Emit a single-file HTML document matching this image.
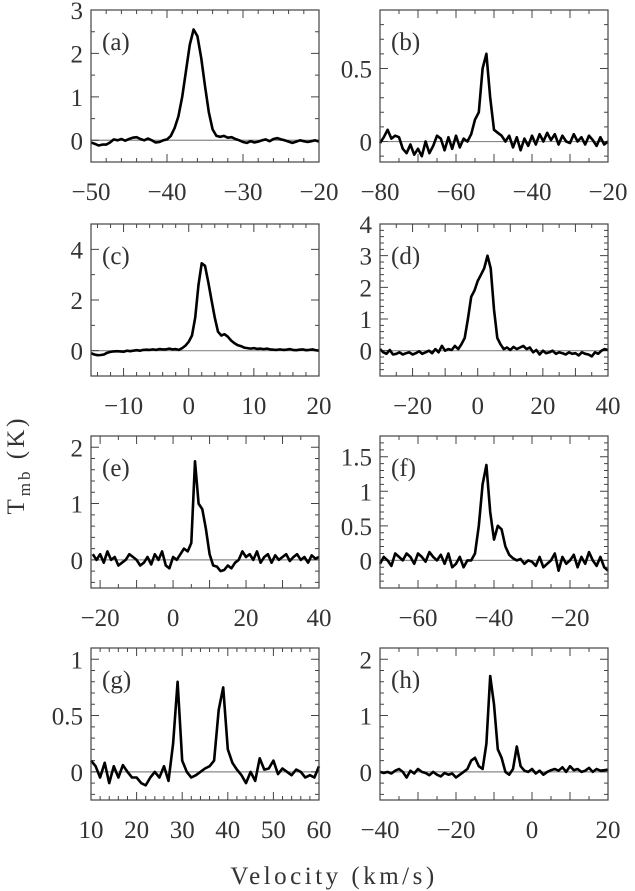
<!DOCTYPE html>
<html><head><meta charset="utf-8"><style>
html,body{margin:0;padding:0;background:#fff;}
svg{display:block;}
text{font-family:"Liberation Serif",serif;fill:#333;}
</style></head><body>
<svg id="chart" width="635" height="891" viewBox="0 0 635 891">
<text x="334" y="884" font-size="25" letter-spacing="3.5" text-anchor="middle">Velocity (km/s)</text>
<text transform="translate(24,465) rotate(-90)" font-size="25" letter-spacing="3" text-anchor="middle">T<tspan font-size="17" dy="6">mb</tspan><tspan dy="-6"> (K)</tspan></text>
</svg>
<script>
// ---- data ----
const panelNames = ["a","b","c","d","e","f","g","h"];
const vStarts = [-50,-80,-15,-30,-22,-70,10,-40];
const vSteps = [0.5,1,0.5,1,1,1,1,1];
const xRanges = [[-50,-20],[-80,-20],[-15,20],[-30,40],[-22.5,40],[-70,-10],[10,60],[-40,20]];
const yRanges = [[-0.5,3],[-0.14,0.9],[-1,5],[-0.8,4],[-0.5,2.2],[-0.4,1.8],[-0.25,1.1],[-0.5,2.2]];
const xTickLabels = [[-50,-40,-30,-20],[-80,-60,-40,-20],[-10,0,10,20],[-20,0,20,40],[-20,0,20,40],[-60,-40,-20],[10,20,30,40,50,60],[-40,-20,0,20]];
const xMinor = [2,5,2,5,5,5,2,5];
const yTickLabels = [[0,1,2,3],[0,0.5],[0,2,4],[0,1,2,3,4],[0,1,2],[0,0.5,1,1.5],[0,0.5,1],[0,1,2]];
const yMinor = [0.5,0.1,1,0.2,0.2,0.1,0.1,0.2];
const specA = [-0.05,-0.08,-0.12,-0.1,-0.1,-0.05,0.02,0.0,0.03,-0.01,0.03,0.06,0.07,0.03,0.0,0.04,0.0,-0.05,-0.04,0.0,0.02,0.1,0.28,0.55,1.0,1.6,2.2,2.55,2.4,1.9,1.25,0.65,0.25,0.1,0.08,0.1,0.06,0.07,0.03,0.0,-0.04,-0.06,-0.02,-0.05,-0.03,0.0,0.02,-0.02,0.03,0.05,0.02,0.0,-0.03,-0.06,-0.03,0.0,-0.02,-0.04,-0.02,0.0,-0.03];
const specB = [-0.01,0.03,0.08,0.02,0.04,0.03,-0.05,-0.08,-0.02,-0.09,-0.05,-0.1,0.0,-0.08,-0.03,0.04,0.02,-0.06,0.03,-0.05,0.04,-0.04,0.02,0.0,0.05,0.15,0.2,0.5,0.6,0.3,0.08,0.06,0.04,0.0,0.04,-0.04,0.03,-0.06,0.02,-0.03,0.04,-0.02,0.05,0.0,0.06,0.01,0.05,-0.02,0.04,0.0,-0.01,0.05,0.0,0.03,-0.02,0.04,0.01,-0.03,0.03,-0.02,0.0];
const specC = [-0.1,-0.15,-0.18,-0.17,-0.15,-0.08,-0.05,-0.03,-0.02,-0.03,-0.04,0.0,-0.02,0.0,0.02,0.0,0.03,0.04,0.03,0.05,0.03,0.06,0.05,0.05,0.08,0.05,0.06,0.03,0.1,0.2,0.35,0.6,1.3,2.6,3.45,3.35,2.7,2.0,1.3,0.75,0.6,0.65,0.55,0.4,0.3,0.22,0.18,0.12,0.1,0.08,0.1,0.07,0.08,0.06,0.08,0.05,0.04,0.03,0.05,0.03,0.04,0.06,0.03,0.02,0.04,0.05,0.02,0.03,0.05,0.02,0.0];
const specD = [0.05,-0.05,-0.1,0.02,-0.12,-0.1,-0.05,-0.12,-0.08,-0.05,-0.12,-0.08,-0.02,-0.1,-0.05,0.0,-0.08,0.05,-0.05,0.15,0.0,0.05,0.02,0.15,0.05,0.2,0.4,1.0,1.7,1.9,2.2,2.4,2.6,3.0,2.6,1.3,0.4,0.2,0.05,0.1,0.02,0.12,0.05,0.1,0.15,0.05,0.1,-0.05,0.02,-0.12,0.0,-0.08,-0.05,0.0,-0.1,-0.05,-0.08,-0.12,-0.05,-0.1,-0.08,-0.15,-0.05,-0.1,-0.12,-0.18,-0.05,-0.1,0.0,0.05,0.02];
const specE = [0.1,0.0,0.1,-0.05,0.15,0.0,0.05,-0.1,-0.05,0.0,0.1,0.05,0.0,-0.1,-0.05,0.05,-0.08,0.1,0.0,0.15,-0.1,-0.15,0.05,0.0,0.1,0.2,0.15,0.3,1.75,1.0,0.9,0.55,0.1,-0.1,-0.12,-0.2,-0.18,-0.1,-0.15,-0.05,0.0,0.15,0.05,0.1,0.0,0.15,-0.05,0.05,0.1,-0.05,0.08,0.0,0.05,0.1,-0.02,0.05,0.1,0.0,0.05,-0.05,0.08,0.02,0.05];
const specF = [-0.05,0.05,0.0,-0.08,0.1,0.05,0.0,0.1,0.05,-0.05,0.1,0.05,-0.02,0.12,0.05,0.0,0.08,-0.05,0.1,-0.1,-0.05,0.05,-0.1,0.0,0.0,0.1,0.5,1.1,1.38,0.7,0.3,0.5,0.45,0.2,0.08,0.03,0.0,0.02,-0.05,0.0,-0.02,-0.08,0.05,-0.1,-0.05,0.0,0.1,-0.15,0.05,-0.05,0.0,0.08,-0.1,0.05,-0.05,0.12,0.0,-0.08,0.05,-0.1,-0.15];
const specG = [0.1,0.05,-0.05,0.08,-0.1,0.05,-0.05,0.06,0.0,-0.05,-0.05,-0.1,-0.12,-0.05,0.0,-0.05,0.05,-0.08,0.25,0.8,0.1,0.0,-0.05,-0.03,0.0,0.03,0.05,0.1,0.55,0.75,0.2,0.08,0.02,-0.03,-0.1,0.0,-0.08,0.12,0.02,0.03,0.1,-0.02,0.03,0.0,-0.03,0.02,0.0,-0.05,-0.03,-0.05,0.05];
const specH = [0.0,-0.02,0.0,-0.03,0.02,0.05,0.0,-0.1,0.02,-0.03,0.05,0.0,-0.02,-0.06,0.0,-0.05,-0.08,-0.02,-0.05,-0.03,-0.1,-0.05,0.0,0.05,0.2,0.25,0.1,0.05,0.5,1.7,1.2,0.4,0.25,0.0,-0.05,0.05,0.45,0.1,0.02,0.0,0.05,-0.03,0.02,-0.05,0.0,0.03,0.05,0.02,0.08,0.0,0.1,0.03,0.05,0.0,0.02,0.07,0.0,0.05,0.02,0.03,0.04];
const spectra = [specA,specB,specC,specD,specE,specF,specG,specH];

// ---- layout ----
const NS = "http://www.w3.org/2000/svg";
const svg = document.getElementById("chart");
const colX = [91,380], rowY = [10,224,436,648], PW = 228, PH = 152;
function mk(tag, attrs, parent){const e=document.createElementNS(NS,tag);for(const k in attrs)e.setAttribute(k,attrs[k]);parent.appendChild(e);return e;}
function fmt(v){return (v<0?"\u2212":"")+String(Math.abs(v));}

panelNames.forEach((nm,i)=>{
  const x0 = colX[i%2], y0 = rowY[Math.floor(i/2)];
  const [xa,xb] = xRanges[i], [ya,yb] = yRanges[i];
  const sx = v => x0 + (v-xa)/(xb-xa)*PW;
  const sy = v => y0 + PH - (v-ya)/(yb-ya)*PH;
  const g = mk("g",{},svg);
  
  
  const z = mk("line",{x1:x0,x2:x0+PW,y1:sy(0),y2:sy(0),stroke:"#888","stroke-width":1.2},g);
  
  
  let d = "";
  const xm = xMinor[i];
  for(let v=Math.ceil(xa/xm)*xm; v<=xb+1e-9; v+=xm){
    const X = sx(v); const major = (v%10===0);
    const L = major?8:4;
    d += `M${X},${y0+PH}v${-L}M${X},${y0}v${L}`;
  }
  const ym = yMinor[i];
  for(let v=Math.ceil(ya/ym)*ym; v<=yb+1e-9; v+=ym){
    const Y = sy(v); const major = yTickLabels[i].some(t=>Math.abs(t-v)<1e-6);
    const L = major?8:4;
    d += `M${x0},${Y}h${L}M${x0+PW},${Y}h${-L}`;
  }
  const tk = mk("path",{d:d,stroke:"#444","stroke-width":1,fill:"none"},g);
  
  
  const ys = spectra[i];
  let p = "";
  ys.forEach((v,k)=>{ const vx = vStarts[i] + k*vSteps[i]; p += (k?"L":"M")+sx(vx).toFixed(1)+","+sy(v).toFixed(1); });
  const ln = mk("path",{d:p,stroke:"#000","stroke-width":2.6,fill:"none","stroke-linejoin":"round"},g);
  
  
  const fr = mk("rect",{x:x0,y:y0,width:PW,height:PH,fill:"none",stroke:"#444","stroke-width":1.2},g);
  
  
  xTickLabels[i].forEach(v=>{
    const t = mk("text",{x:sx(v),y:y0+PH+38,"font-size":25,"text-anchor":"middle"},g);
    t.textContent = fmt(v);
    
    
  });
  yTickLabels[i].forEach(v=>{
    const t = mk("text",{x:x0-8,y:sy(v)+9,"font-size":25,"text-anchor":"end"},g);
    t.textContent = fmt(v);
    
    
  });
  const pl = mk("text",{x:x0+11,y:y0+40,"font-size":25},g);
  pl.textContent = "("+nm+")";
  
  
});
</script>
</body></html>
